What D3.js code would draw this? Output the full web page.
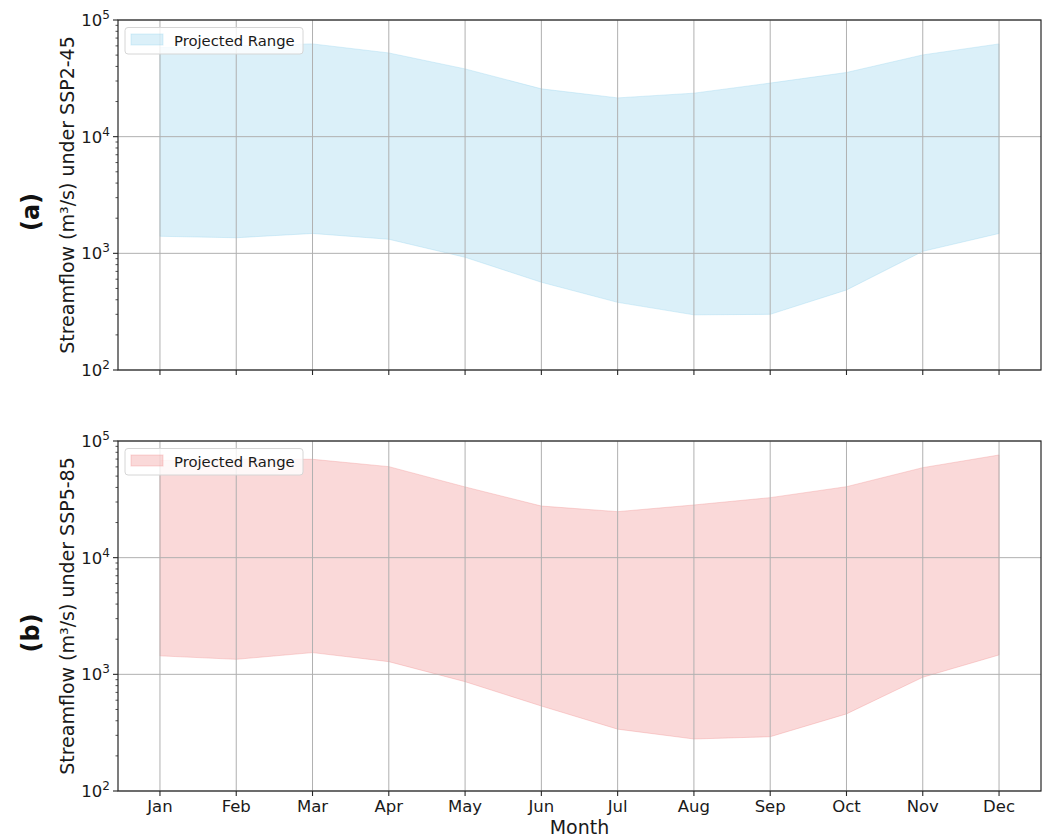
<!DOCTYPE html>
<html>
<head>
<meta charset="utf-8">
<script src="https://cdn.jsdelivr.net/npm/d3@7"></script>
<style>
  html, body { margin: 0; padding: 0; background: #ffffff; }
  svg { display: block; font-family: "DejaVu Sans", sans-serif; }
</style>
</head>
<body>
<svg id="chart" width="1049" height="837"></svg>
<script>
// Monthly streamflow envelopes (m³/s)
const months = ["Jan", "Feb", "Mar", "Apr", "May", "Jun", "Jul", "Aug", "Sep", "Oct", "Nov", "Dec"];

const ssp245Min = [1400, 1360, 1480, 1320, 925, 565, 380, 297, 300, 485, 1040, 1480];
const ssp245Max = [58000, 60000, 62400, 52200, 38100, 25700, 21500, 23600, 28800, 35500, 50200, 62400];

const ssp585Min = [1440, 1345, 1535, 1285, 865, 535, 339, 279, 292, 458, 944, 1466];
const ssp585Max = [68000, 70000, 69700, 60300, 40400, 27700, 24800, 28300, 32700, 40600, 59100, 75900];

const yTickExponents = [2, 3, 4, 5];

const panels = [
  { tag: "(a)", scenario: "SSP2-45", lo: ssp245Min, hi: ssp245Max, color: "#87ceeb", top: 20, showX: false },
  { tag: "(b)", scenario: "SSP5-85", lo: ssp585Min, hi: ssp585Max, color: "#f08080", top: 441, showX: true }
];

const svg = d3.select("#chart");
const left = 118, right = 1041, panelH = 350;

const x = d3.scalePoint().domain(months).range([left, right]).padding(0.55);

panels.forEach(p => {
  const bottom = p.top + panelH;
  const y = d3.scaleLog().domain([100, 1e5]).range([bottom, p.top]);
  const g = svg.append("g");

  // envelope between minimum and maximum
  const area = d3.area()
    .x((d, i) => x(months[i]))
    .y0((d, i) => y(p.lo[i]))
    .y1((d, i) => y(p.hi[i]));
  g.append("path")
    .datum(p.lo)
    .attr("d", area)
    .attr("fill", p.color)
    .attr("fill-opacity", 0.3)
    .attr("stroke", p.color)
    .attr("stroke-opacity", 0.3)
    .attr("stroke-width", 1);

  // grid
  const grid = g.append("g").attr("stroke", "#b0b0b0").attr("stroke-width", 1);
  months.forEach(m => {
    grid.append("line").attr("x1", x(m)).attr("x2", x(m)).attr("y1", p.top).attr("y2", bottom);
  });
  yTickExponents.forEach(e => {
    const v = Math.pow(10, e);
    grid.append("line").attr("x1", left).attr("x2", right).attr("y1", y(v)).attr("y2", y(v));
  });

  // frame
  g.append("rect")
    .attr("x", left).attr("y", p.top)
    .attr("width", right - left).attr("height", panelH)
    .attr("fill", "none").attr("stroke", "#262626").attr("stroke-width", 1.2);

  // y axis: major ticks with power labels, minor ticks
  const yAxis = g.append("g");
  const minor = [];
  for (let e = 2; e < 5; e++) for (let k = 2; k <= 9; k++) minor.push(k * Math.pow(10, e));
  minor.forEach(v => {
    yAxis.append("line").attr("x1", left - 2.5).attr("x2", left).attr("y1", y(v)).attr("y2", y(v))
      .attr("stroke", "#262626").attr("stroke-width", 0.8);
  });
  yTickExponents.forEach(e => {
    const v = Math.pow(10, e);
    yAxis.append("line").attr("x1", left - 5).attr("x2", left).attr("y1", y(v)).attr("y2", y(v))
      .attr("stroke", "#262626").attr("stroke-width", 1.1);
    const t = yAxis.append("text")
      .attr("x", left - 8).attr("y", y(v) + 6)
      .attr("text-anchor", "end").attr("font-size", 16.5).attr("fill", "#1a1a1a");
    t.append("tspan").text("10");
    t.append("tspan").attr("dy", -7).attr("font-size", 12).text(e);
  });

  // x ticks
  months.forEach(m => {
    g.append("line").attr("x1", x(m)).attr("x2", x(m)).attr("y1", bottom).attr("y2", bottom + 5)
      .attr("stroke", "#262626").attr("stroke-width", 1.1);
    if (p.showX) {
      g.append("text").attr("x", x(m)).attr("y", bottom + 21)
        .attr("text-anchor", "middle").attr("font-size", 16.5).attr("fill", "#1a1a1a").text(m);
    }
  });

  // axis title and panel tag
  const cy = p.top + panelH / 2;
  g.append("text")
    .attr("transform", `translate(74,${cy}) rotate(-90)`)
    .attr("text-anchor", "middle").attr("font-size", 19).attr("fill", "#1a1a1a")
    .text(`Streamflow (m³/s) under ${p.scenario}`);
  g.append("text")
    .attr("transform", `translate(39,${cy + 17}) rotate(-90)`)
    .attr("text-anchor", "middle").attr("font-size", 24).attr("font-weight", "bold").attr("fill", "#111")
    .text(p.tag);

  // legend
  const lg = g.append("g").attr("transform", `translate(${left + 7},${p.top + 7.5})`);
  lg.append("rect").attr("width", 178).attr("height", 26.5).attr("rx", 3)
    .attr("fill", "#ffffff").attr("fill-opacity", 0.8).attr("stroke", "#d6d6d6").attr("stroke-width", 1);
  lg.append("rect").attr("x", 6).attr("y", 6.5).attr("width", 32).attr("height", 11)
    .attr("fill", p.color).attr("fill-opacity", 0.3).attr("stroke", p.color).attr("stroke-opacity", 0.3);
  lg.append("text").attr("x", 49).attr("y", 18).attr("font-size", 14.8).attr("fill", "#1a1a1a")
    .text("Projected Range");
});

svg.append("text").attr("x", (left + right) / 2).attr("y", 834)
  .attr("text-anchor", "middle").attr("font-size", 19).attr("fill", "#1a1a1a").text("Month");
</script>
</body>
</html>
